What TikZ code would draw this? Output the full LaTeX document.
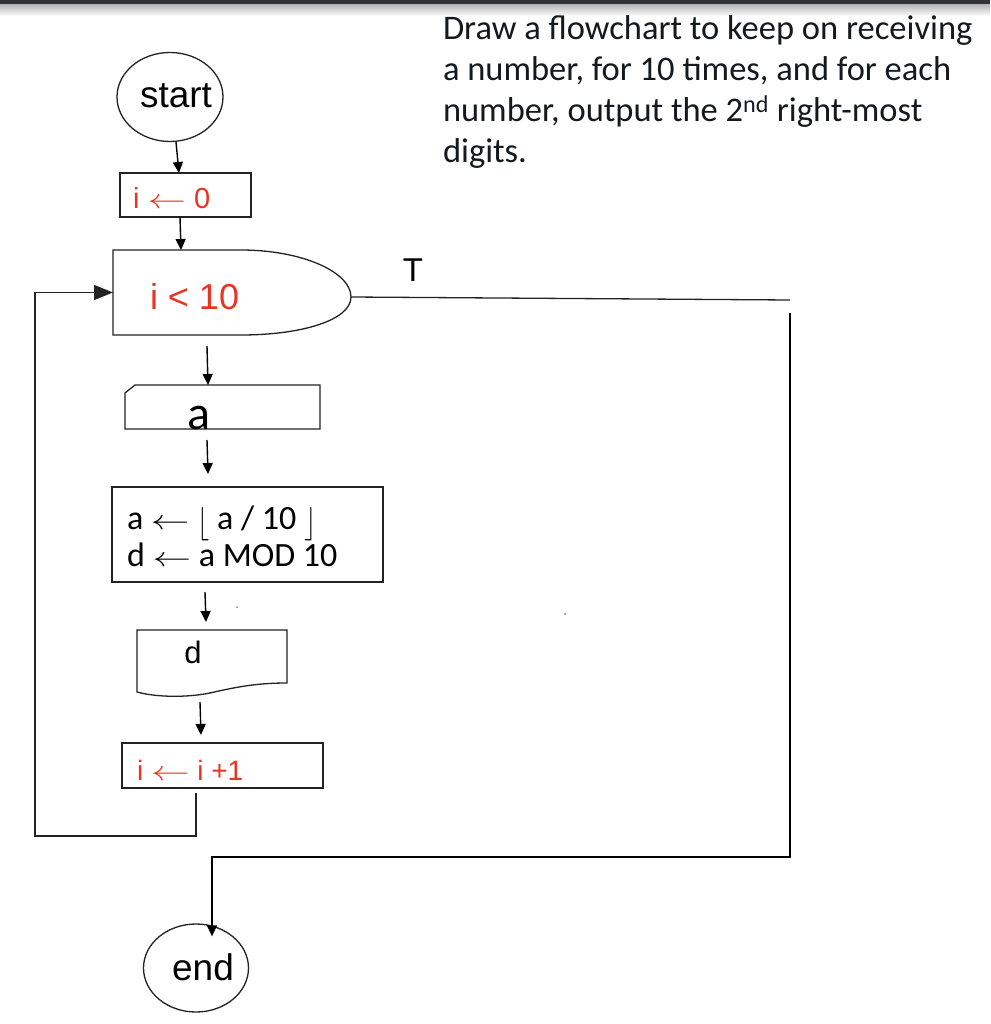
\documentclass[tikz,border=0pt]{standalone}
\usepackage{fontspec}
\setmainfont{Liberation Sans}
\newfontfamily\calib{Carlito}
\usetikzlibrary{arrows.meta,shapes.geometric}
\definecolor{hred}{RGB}{234,51,35}
\definecolor{lncol}{RGB}{35,35,35}
\definecolor{topbar}{RGB}{47,51,55}
\definecolor{txtdark}{RGB}{20,25,30}
\newcommand{\larr}{\scalebox{1.55}[1.1]{$\leftarrow$}}
\newcommand{\lfl}{\raisebox{-3pt}{\scalebox{1.1}[1.35]{$\lfloor$}}}
\newcommand{\rfl}{\raisebox{-3pt}{\scalebox{1.1}[1.35]{$\rfloor$}}}
\begin{document}
\begin{tikzpicture}[x=1pt,y=-1pt,
  shp/.style={draw=lncol,line width=1.3pt},
  ghost/.style={inner sep=0pt,outer sep=0pt},
  flow/.style={draw=black,line width=1.4pt,-{Triangle[length=11pt,width=10pt]}},
  bigflow/.style={draw=lncol,line width=1.4pt,-{Triangle[length=19pt,width=15pt]}},
  plain/.style={draw=lncol,line width=1.3pt},
  lbl/.style={inner sep=0pt,outer sep=0pt},
  redtxt/.style={lbl,text=hred}]
\useasboundingbox (0,0) rectangle (990,1024);
\fill[white] (0,0) rectangle (990,1024);
% top bar
\fill[topbar] (0,0) rectangle (990,5);
\shade[top color=gray!55,bottom color=white] (0,5) rectangle (990,16);

% question text
\node[lbl,anchor=base west,align=left,text=txtdark,font=\calib\fontsize{34.5}{41.3}\selectfont] (q) at (443,163)
  {Draw a flowchart to keep on receiving\\a number, for 10 times, and for each\\number, output the 2\textsuperscript{nd} right-most\\digits.};

% start
\node[shp,ellipse,minimum width=106pt,minimum height=89pt,inner sep=0pt] (start) at (170,97) {};
\node[lbl,anchor=base,font=\fontsize{37}{40}\selectfont] (startt) at (176,108) {start};

% i <- 0
\node[shp,ghost,anchor=north west,minimum width=131pt,minimum height=44pt] (i0) at (120,173) {};
\node[redtxt,anchor=base west,font=\fontsize{29}{32}\selectfont] (i0t) at (133,209) {i \larr\ 0};

% decision
\node[ghost,anchor=north west,minimum width=238pt,minimum height=85pt] (dec) at (113,250) {};
\draw[shp] (113,250) -- (241,250) .. controls (302,250) and (351,272) .. (351,297)
  .. controls (351,320) and (302,335) .. (241,335) -- (113,335) -- cycle;
\coordinate (dece) at (351,297);
\node[redtxt,anchor=base west,font=\fontsize{36}{40}\selectfont] (dect) at (150,309) {i < 10};
\node[lbl,anchor=base,font=\fontsize{33}{36}\selectfont] (tl) at (413,281) {T};

% input a
\node[ghost,anchor=north west,minimum width=195pt,minimum height=44pt] (inp) at (125,385) {};
\draw[shp] (135,385) -- (320,385) -- (320,429) -- (125,429) -- (125,393) -- cycle;
\node[lbl,anchor=base,font=\calib\fontsize{48}{50}\selectfont] (inpt) at (199,429) {a};

% process
\node[shp,ghost,anchor=north west,minimum width=271pt,minimum height=95pt] (proc) at (112,487) {};
\node[lbl,anchor=base west,align=left,font=\calib\fontsize{34}{37}\selectfont] (proct) at (127,566)
  {a \larr\ \lfl\ a / 10 \rfl\\d \larr\ a MOD 10};

% output d
\node[ghost,anchor=north west,minimum width=150pt,minimum height=62pt] (doc) at (137,630) {};
\draw[shp] (137,630) -- (287,630) -- (287,683) .. controls (260,683) and (240,686) .. (210,693)
  .. controls (185,698) and (155,697) .. (137,692) -- cycle;
\node[lbl,anchor=base,font=\fontsize{31}{34}\selectfont] (doct) at (193,663) {d};

% i <- i+1
\node[shp,ghost,anchor=north west,minimum width=201pt,minimum height=45pt] (inc) at (122,743) {};
\node[redtxt,anchor=base west,font=\fontsize{28}{31}\selectfont] (inct) at (137,780) {i \larr\ i +1};

% end
\node[shp,ellipse,minimum width=105pt,minimum height=88pt,inner sep=0pt] (end) at (196,968) {};
\node[lbl,anchor=base,font=\fontsize{37}{40}\selectfont] (endt) at (203,980) {end};

% connectors
\draw[flow] ([xshift=6pt]start.south) -- ([xshift=-6.5pt]i0.north);
\draw[flow] ([xshift=-5.5pt]i0.south) -- ([xshift=-51pt]dec.north);
\draw[flow] ([xshift=-25pt,yshift=-11pt]dec.south) -- ([xshift=-14.5pt]inp.north);
\draw[flow] ([xshift=-15.5pt,yshift=-11pt]inp.south) -- ([xshift=-39.5pt,yshift=13pt]proc.north);
\draw[flow] ([xshift=-42.5pt,yshift=-10pt]proc.south) -- ([xshift=-6pt,yshift=8pt]doc.north);
\draw[flow] ([xshift=-12pt,yshift=-10pt]doc.south) -- ([xshift=-21.5pt,yshift=8pt]inc.north);

\coordinate (lb) at (35,836);
\draw[bigflow] ([xshift=-26.5pt,yshift=-5pt]inc.south) |- (lb) |- (dec.west);

\coordinate (tr) at (790,300);
\coordinate (trb) at (790,313);
\coordinate (fb) at (790,857);
\draw[plain] (dece) -- (tr);
\draw[flow] (trb) -- (fb) -| ([xshift=16pt,yshift=-13pt]end.north);

% stray dots
\fill[gray] (237,607) circle (1pt);
\fill[gray] (565,614) circle (1pt);
\end{tikzpicture}
\end{document}
